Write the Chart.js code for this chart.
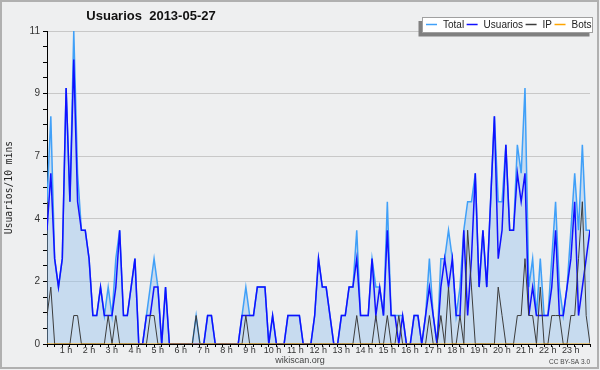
<!DOCTYPE html>
<html>
<head>
<meta charset="utf-8">
<title>Usuarios 2013-05-27</title>
<script src="https://cdn.jsdelivr.net/npm/chart.js@4.4.1/dist/chart.umd.min.js"></script>
<style>
  html, body { margin: 0; padding: 0; background: #eeeff0; }
  canvas { display: block; }
</style>
</head>
<body>
<canvas id="chart" width="600" height="370"></canvas>
<script>
// 10-minute slots, 00:00 -> 23:40
var total = [5,8,3,2,3,9,5,11,6,4,4,3,1,1,2,1,2,1,3,4,1,1,2,3,0,0,1,2,3,2,
  0,2,0,0,0,0,0,0,0,1,0,0,1,1,0,0,0,0,0,0,0,1,2,1,1,2,2,2,0,1,
  0,0,0,1,1,1,1,0,0,0,1,3,2,2,1,0,0,1,1,2,2,4,1,1,1,3,2,2,1,5,
  1,1,1,1,0,0,1,1,0,1,3,1,0,3,3,4,3,1,2,4,5,5,6,2,4,2,5,8,5,5,
  7,4,4,7,6,9,2,3,1,3,1,1,3,5,2,1,2,4,6,4,7,4,4];
var usuarios = [4,6,3,2,3,9,5,10,5,4,4,3,1,1,2,1,1,1,2,4,1,1,2,3,0,0,1,1,2,2,
  0,2,0,0,0,0,0,0,0,0,0,0,1,1,0,0,0,0,0,0,0,1,1,1,1,2,2,2,0,1,
  0,0,0,1,1,1,1,0,0,0,1,3,2,2,1,0,0,1,1,2,2,3,1,1,1,3,1,2,1,4,
  1,1,0,1,0,0,1,1,0,1,2,1,0,2,3,2,3,1,1,4,1,3,6,2,4,2,5,8,3,4,
  7,4,4,6,5,6,1,2,1,1,1,1,2,4,1,1,2,3,5,1,2,3,4];
var ip = [1,2,0,0,0,0,0,1,1,0,0,0,0,0,0,0,1,0,1,0,0,0,0,0,0,0,0,1,1,0,
  0,0,0,0,0,0,0,0,0,1,0,0,0,0,0,0,0,0,0,0,0,0,1,0,0,0,0,0,0,0,
  0,0,0,0,0,0,0,0,0,0,0,0,0,0,0,0,0,0,0,0,0,1,0,0,0,0,1,0,0,1,
  0,0,1,0,0,0,0,0,0,0,1,0,0,1,0,2,0,0,1,0,4,2,0,0,0,0,0,0,2,1,
  0,0,0,1,1,3,1,1,0,2,0,0,1,1,1,0,0,1,1,3,5,1,0];
var bots = [0,0,0,0,0,0,0,0,0,0,0,0,0,0,0,0,0,0,0,0,0,0,0,0,0,0,0,0,0,0,
  0,0,0,0,0,0,0,0,0,0,0,0,0,0,0,0,0,0,0,0,0,0,0,0,0,0,0,0,0,0,
  0,0,0,0,0,0,0,0,0,0,0,0,0,0,0,0,0,0,0,0,0,0,0,0,0,0,0,0,0,0,
  0,0,0,0,0,0,0,0,0,0,0,0,0,0,0,0,0,0,0,0,0,0,0,0,0,0,0,0,0,0,
  0,0,0,0,0,0,0,0,0,0,0,0,0,0,0,0,0,0,0,0,0,0,0];

var hourLabels = ['1 h','2 h','3 h','4 h','5 h','6 h','7 h','8 h','9 h','10 h','11 h','12 h',
  '13 h','14 h','15 h','16 h','17 h','18 h','19 h','20 h','21 h','22 h','23 h'];
var yTickLabels = ['0','2','4','7','9','11'];
var seriesNames = ['Total','Usuarios','IP','Bots'];
var seriesColors = ['#40a0f8','#1010ff','#3c3c3c','#ffa500'];

var slots = total.map(function(v, i) { return i; });

Chart.defaults.font.family = '"Liberation Sans", Arial, sans-serif';

// title, legend box, footer texts and frame
var decor = {
  id: 'decor',
  beforeDraw: function(chart) {
    var c = chart.ctx;
    c.save();
    c.fillStyle = '#eeeff0';
    c.fillRect(0, 0, chart.width, chart.height);
    c.restore();
  },
  afterDraw: function(chart) {
    var c = chart.ctx;
    c.save();
    c.strokeStyle = '#b0b0b0';
    c.lineWidth = 2;
    c.strokeRect(1, 1, 597, 367);

    c.fillStyle = '#111';
    c.font = 'bold 13px "Liberation Sans"';
    c.textAlign = 'center';
    c.textBaseline = 'middle';
    c.fillText('Usuarios  2013-05-27', 151, 16);

    // legend
    c.fillStyle = '#808080';
    c.fillRect(418.5, 21, 171, 15.5);
    c.fillStyle = '#ffffff';
    c.fillRect(422, 17, 171, 15);
    c.strokeStyle = '#a0a0a0';
    c.lineWidth = 1;
    c.strokeRect(422.5, 17.5, 170, 15);
    c.font = '10px "Liberation Sans"';
    c.textAlign = 'left';
    var x = 426;
    for (var k = 0; k < seriesNames.length; k++) {
      c.strokeStyle = seriesColors[k];
      c.lineWidth = 1.5;
      c.beginPath();
      c.moveTo(x, 24.5);
      c.lineTo(x + 11, 24.5);
      c.stroke();
      c.fillStyle = '#222';
      c.fillText(seriesNames[k], x + 17, 25);
      x = x + 17 + c.measureText(seriesNames[k]).width + 2.5;
    }

    c.fillStyle = '#444';
    c.textAlign = 'center';
    c.font = '9px "Liberation Sans"';
    c.fillText('wikiscan.org', 300, 361);
    c.textAlign = 'right';
    c.font = '6.5px "Liberation Sans"';
    c.fillText('CC BY-SA 3.0', 590, 362);
    c.restore();
  }
};

var chart = new Chart(document.getElementById('chart'), {
  type: 'line',
  data: {
    labels: slots,
    datasets: [
      { label: 'Bots', data: bots, borderColor: seriesColors[3], borderWidth: 1, pointRadius: 0, order: 1 },
      { label: 'IP', data: ip, borderColor: seriesColors[2], borderWidth: 1, pointRadius: 0, order: 2 },
      { label: 'Usuarios', data: usuarios, borderColor: seriesColors[1], borderWidth: 1.5, pointRadius: 0, order: 3 },
      { label: 'Total', data: total, borderColor: seriesColors[0], backgroundColor: 'rgba(150,195,238,0.45)',
        fill: 'origin', borderWidth: 1.5, pointRadius: 0, order: 4 }
    ]
  },
  options: {
    responsive: false,
    animation: false,
    devicePixelRatio: 1,
    layout: { padding: { left: 0, top: 31, right: 10, bottom: 6 } },
    plugins: { legend: { display: false }, tooltip: { enabled: false } },
    elements: { line: { tension: 0 } },
    scales: {
      x: {
        type: 'linear',
        min: 0,
        max: slots.length - 1,
        z: 1,
        afterBuildTicks: function(s) {
          s.ticks = slots.filter(function(i) { return i % 2 === 0; }).map(function(v) { return { value: v }; });
        },
        afterFit: function(s) { s.height = 20; },
        border: { color: '#000', width: 1 },
        grid: { drawOnChartArea: false, drawTicks: true, tickLength: 3, tickColor: '#000' },
        ticks: {
          autoSkip: false, maxRotation: 0, minRotation: 0, padding: -1, labelOffset: -4,
          color: '#333', font: { size: 9, lineHeight: 1 },
          callback: function(v) {
            if (v % 6 === 0 && v > 0 && v / 6 <= hourLabels.length) return hourLabels[v / 6 - 1];
            return '';
          }
        }
      },
      y: {
        min: 0,
        max: 11,
        afterBuildTicks: function(s) {
          var t = [];
          for (var k = 0; k <= 20; k++) t.push({ value: k * 0.55 });
          s.ticks = t;
        },
        afterFit: function(s) { s.width = 47; },
        border: { color: '#000', width: 1 },
        grid: {
          color: function(ctx) { return (ctx.index % 4 === 0 && ctx.index > 0) ? '#c8c8c8' : 'rgba(0,0,0,0)'; },
          tickLength: 4,
          tickColor: '#000'
        },
        ticks: {
          padding: 3, color: '#333', font: { size: 10 },
          callback: function(v, i) { return i % 4 === 0 ? yTickLabels[i / 4] : ''; }
        },
        title: {
          display: true, text: 'Usuarios/10 mins', color: '#222',
          font: { family: '"DejaVu Sans Mono"', size: 9.7 },
          padding: { top: 4, bottom: 0 }
        }
      }
    }
  },
  plugins: [decor]
});
</script>
</body>
</html>
